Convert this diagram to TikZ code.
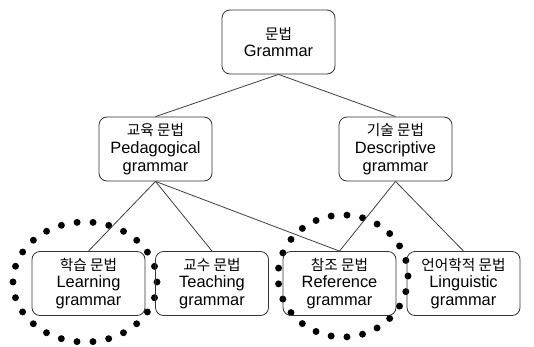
\documentclass[tikz,border=0pt]{standalone}
\usepackage{fontspec}
\setmainfont{Liberation Sans}
\newfontfamily\kr{Noto Sans CJK KR}
\newcommand{\krline}[1]{{\kr\fontsize{11}{13.3}\selectfont #1}}
\begin{document}
\begin{tikzpicture}[x=0.75pt,y=-0.75pt,
  gbox/.style={draw=black!80, line width=0.6pt, rounded corners=6pt, minimum width=84.75pt, minimum height=48pt, align=center, inner sep=1pt, font=\fontsize{12.3}{13.3}\selectfont},
  link/.style={draw=black!75, line width=0.6pt},
  dotring/.style={line width=5.2pt, line cap=round}]
\useasboundingbox (0,0) rectangle (534,346);
\fill[white] (0,0) rectangle (534,346);
\draw[dotring, dash pattern=on 0pt off 11.99pt] (85,282) ellipse [x radius=72, y radius=60];
\draw[dotring, dash pattern=on 0pt off 11.88pt] (343,276) ellipse [x radius=65, y radius=61];
\node[gbox] (root) at (278.5,42) {\krline{문법}\\Grammar};
\node[gbox] (ped) at (155.5,149) {\krline{교육 문법}\\Pedagogical\\grammar};
\node[gbox] (desc) at (395.5,149) {\krline{기술 문법}\\Descriptive\\grammar};
\node[gbox] (learn) at (88.5,283.5) {\krline{학습 문법}\\Learning\\grammar};
\node[gbox] (teach) at (212,283.5) {\krline{교수 문법}\\Teaching\\grammar};
\node[gbox] (ref) at (339.5,283.5) {\krline{참조 문법}\\Reference\\grammar};
\node[gbox] (ling) at (463.5,283.5) {\krline{언어학적 문법}\\Linguistic\\grammar};
\draw[link] (root.south) -- (ped.north);
\draw[link] (root.south) -- (desc.north);
\draw[link] (ped.south) -- (learn.north);
\draw[link] (ped.south) -- (teach.north);
\draw[link] (ped.south) -- (ref.north);
\draw[link] (desc.south) -- (ref.north);
\draw[link] (desc.south) -- (ling.north);
\end{tikzpicture}
\end{document}
